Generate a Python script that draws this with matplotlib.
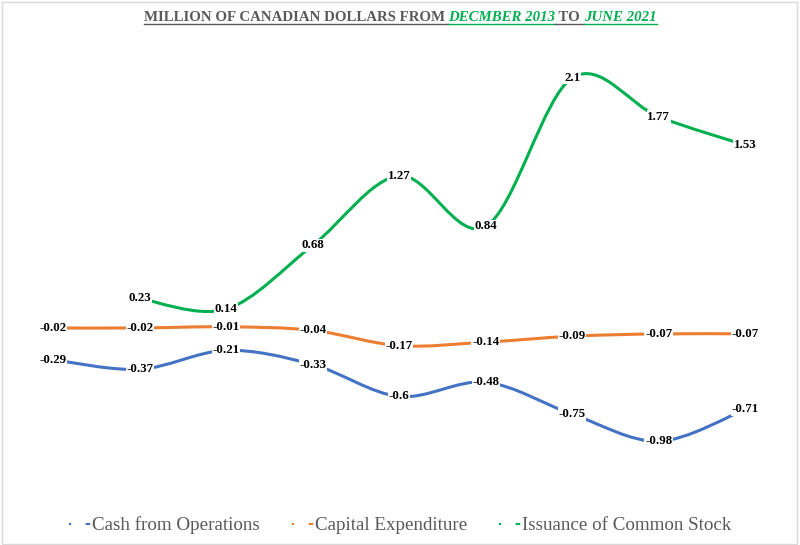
import matplotlib
matplotlib.use("Agg")
import matplotlib.pyplot as plt
import numpy as np
from matplotlib.path import Path
from matplotlib.patches import PathPatch, Rectangle
from matplotlib.lines import Line2D

plt.rcParams["font.family"] = ["Liberation Serif", "DejaVu Serif"]

# ---------------------------------------------------------------------------
# Data (half-year periods, Dec 2013 -> Jun 2021)
# ---------------------------------------------------------------------------
periods = list(range(9))
cash_ops = [-0.29, -0.37, -0.21, -0.33, -0.6, -0.48, -0.75, -0.98, -0.71]
capex = [-0.02, -0.02, -0.01, -0.04, -0.17, -0.14, -0.09, -0.07, -0.07]
stock = [None, 0.23, 0.14, 0.68, 1.27, 0.84, 2.1, 1.77, 1.53]

series = [
    ("Cash from Operations", cash_ops, "#4472C4"),
    ("Capital Expenditure", capex, "#ED7D31"),
    ("Issuance of Common Stock", stock, "#00B050"),
]

GRAY = "#595959"
GREEN = "#00B050"


def smooth_path(xs, ys):
    """Excel-style smoothed line: cubic Bezier through each point."""
    pts = np.column_stack([xs, ys])
    n = len(pts)
    verts = [pts[0]]
    codes = [Path.MOVETO]
    for i in range(n - 1):
        p0 = pts[max(i - 1, 0)]
        p1 = pts[i]
        p2 = pts[i + 1]
        p3 = pts[min(i + 2, n - 1)]
        c1 = p1 + (p2 - p0) / 6.0
        c2 = p2 - (p3 - p1) / 6.0
        verts += [c1, c2, p2]
        codes += [Path.CURVE4] * 3
    return Path(verts, codes)


fig = plt.figure(figsize=(8, 5.45), dpi=100)
ax = fig.add_axes([0.0125, 0.0778, 0.973, 0.866])
ax.set_xlim(-0.5, 8.5)
ax.set_ylim(-1.5, 2.5)
ax.axis("off")

for name, vals, color in series:
    xs = [x for x, v in zip(periods, vals) if v is not None]
    ys = [v for v in vals if v is not None]
    ax.add_patch(PathPatch(smooth_path(xs, ys), facecolor="none",
                           edgecolor=color, lw=2.2, capstyle="round", zorder=2))
    for x, y in zip(xs, ys):
        ax.text(x, y, f"{y:g}", ha="center", va="center", fontsize=9.3,
                fontweight="bold", color="black", zorder=4,
                bbox=dict(boxstyle="square,pad=0.05", fc="white", ec="none"))

# chart border
fig.patches.append(Rectangle((0.002, 0.002), 0.994, 0.994, transform=fig.transFigure,
                             fill=False, ec="#d9d9d9", lw=1))

# title with mixed styles
pieces = [
    ("MILLION OF CANADIAN DOLLARS FROM ", GRAY, "normal"),
    ("DECMBER 2013", GREEN, "italic"),
    (" TO ", GRAY, "normal"),
    ("JUNE 2021", GREEN, "italic"),
]
renderer = fig.canvas.get_renderer()
texts = []
for s, c, st in pieces:
    t = fig.text(0, 0, s, color=c, style=st, fontweight="bold", fontsize=10.7,
                 va="baseline", ha="left")
    texts.append(t)
widths = [t.get_window_extent(renderer).width for t in texts]
total = sum(widths)
x0 = (800 - total) / 2
ybase = 545 - 21
for t, w, (s, c, st) in zip(texts, widths, pieces):
    t.set_position((x0 / 800, ybase / 545))
    # underline
    fig.add_artist(Line2D([x0 / 800, (x0 + w) / 800],
                          [(ybase - 3) / 545, (ybase - 3) / 545],
                          transform=fig.transFigure, color=c, lw=1))
    x0 += w

# legend
handles = [Line2D([], [], color=c, lw=1.5, linestyle=(0, (1, 7, 2.2, 50)))
           for _, _, c in series]
fig.legend(handles, [n for n, _, _ in series], loc="center",
           bbox_to_anchor=(0.5, 0.036), ncol=3, frameon=False, fontsize=13.7,
           handlelength=1.15, handletextpad=0.05, columnspacing=1.7,
           labelcolor=GRAY)

fig.savefig("out.png", dpi=100)
